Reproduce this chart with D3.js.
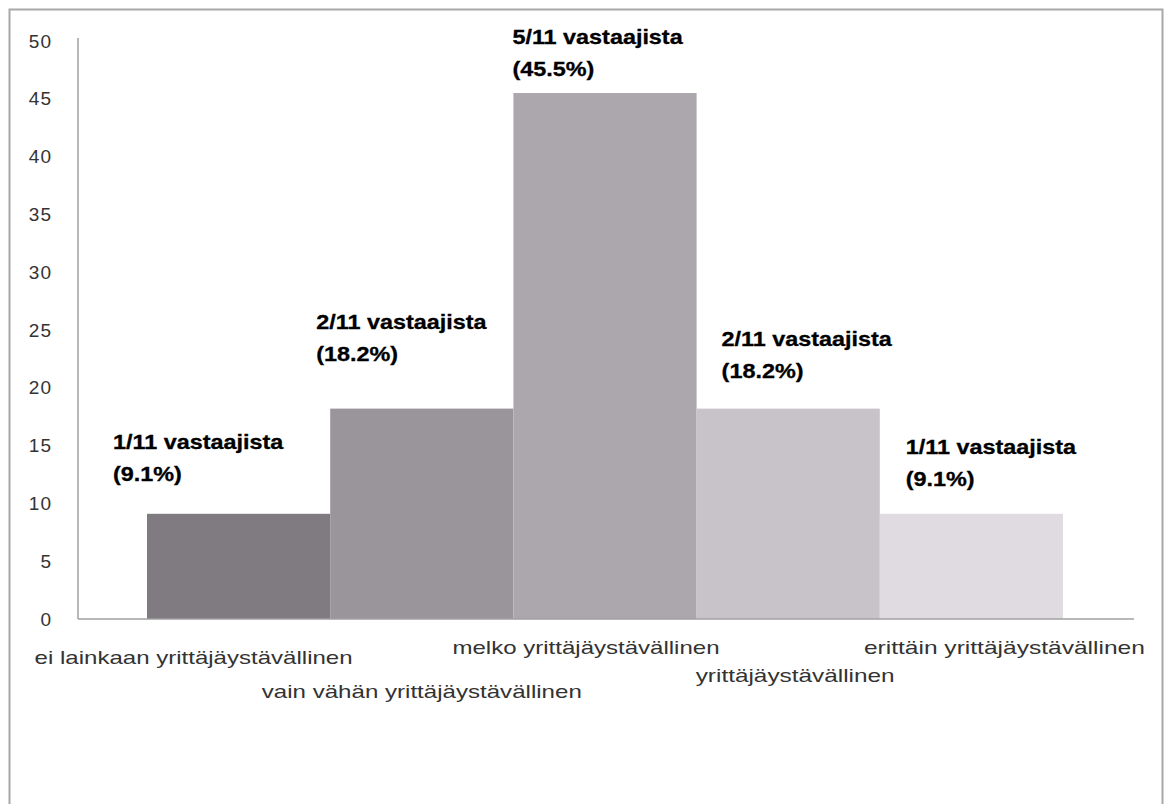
<!DOCTYPE html>
<html>
<head>
<meta charset="utf-8">
<script src="https://cdn.jsdelivr.net/npm/d3@7"></script>
<style>
  html, body { margin: 0; padding: 0; background: #fff; }
  svg { display: block; }
</style>
</head>
<body>
<svg id="chart" width="1168" height="804"></svg>
<script>
// chart data
const categories = [
  'ei lainkaan yrittäjäystävällinen',
  'vain vähän yrittäjäystävällinen',
  'melko yrittäjäystävällinen',
  'yrittäjäystävällinen',
  'erittäin yrittäjäystävällinen'
];
const respondents = [1, 2, 5, 2, 1];
const totalRespondents = 11;
const percents = [9.1, 18.2, 45.5, 18.2, 9.1];
const yTicks = [0, 5, 10, 15, 20, 25, 30, 35, 40, 45, 50];

// layout tweaks (the original labels are placed by hand)
const barColors = ['#807b81', '#9a959b', '#aca7ad', '#c8c3c9', '#e0dbe1'];
const catLabelLayout = [
  { dx: -45, y: 664, w: 318 },
  { dx: 0, y: 698, w: 320 },
  { dx: -19, y: 654, w: 267 },
  { dx: 7, y: 682, w: 199 },
  { dx: 33, y: 654, w: 281 }
];
const valLabelLayout = [
  { dx: -34, dy: -65 },
  { dx: -14, dy: -80 },
  { dx: -1, dy: -49 },
  { dx: 25, dy: -63 },
  { dx: 26, dy: -60 }
];

const svg = d3.select('#chart');

// outer frame
svg.append('rect')
  .attr('x', 9.5).attr('y', 9.5)
  .attr('width', 1153).attr('height', 900)
  .attr('fill', 'none')
  .attr('stroke', '#a8a8a8')
  .attr('stroke-width', 2);

const x = d3.scaleBand()
  .domain(categories)
  .range([147, 1063])
  .padding(0);

const y = d3.scaleLinear()
  .domain([0, 50])
  .range([619, 41]);

const axisLeftX = 78;
const axisRightX = 1134;

// bars
svg.append('g')
  .selectAll('rect')
  .data(categories)
  .join('rect')
  .attr('x', d => x(d))
  .attr('y', (d, i) => y(percents[i]))
  .attr('width', x.bandwidth())
  .attr('height', (d, i) => y(0) - y(percents[i]))
  .attr('fill', (d, i) => barColors[i]);

// y axis
const yAxis = svg.append('g')
  .attr('transform', 'translate(' + axisLeftX + ',0)')
  .call(d3.axisLeft(y).tickValues(yTicks).tickSize(0).tickPadding(26));
yAxis.select('.domain')
  .attr('d', 'M0,' + (y(50) - 3) + 'V' + y(0))
  .attr('stroke', '#a0a0a0')
  .attr('stroke-width', 1.5);
yAxis.selectAll('text')
  .attr('font-family', 'Liberation Sans, Arial, sans-serif')
  .attr('font-size', 19)
  .attr('fill', '#333')
  .attr('letter-spacing', 1);

// x axis line
svg.append('line')
  .attr('x1', axisLeftX).attr('x2', axisRightX)
  .attr('y1', y(0)).attr('y2', y(0))
  .attr('stroke', '#a0a0a0')
  .attr('stroke-width', 1.5);

// category labels
svg.append('g')
  .selectAll('text')
  .data(categories)
  .join('text')
  .attr('x', (d, i) => x(d) + x.bandwidth() / 2 + catLabelLayout[i].dx)
  .attr('y', (d, i) => catLabelLayout[i].y)
  .attr('text-anchor', 'middle')
  .attr('textLength', (d, i) => catLabelLayout[i].w)
  .attr('lengthAdjust', 'spacingAndGlyphs')
  .attr('font-family', 'Liberation Sans, Arial, sans-serif')
  .attr('font-size', 19)
  .attr('fill', '#333')
  .text(d => d);

// value labels
const valLabels = svg.append('g')
  .selectAll('g')
  .data(categories)
  .join('g')
  .attr('transform', (d, i) =>
    'translate(' + (x(d) + valLabelLayout[i].dx) + ',' + (y(percents[i]) + valLabelLayout[i].dy) + ') scale(1.2,1)')
  .attr('font-family', 'Liberation Sans, Arial, sans-serif')
  .attr('font-size', 19.5)
  .attr('font-weight', 'bold')
  .attr('fill', '#000')
  .attr('stroke', '#000')
  .attr('stroke-width', 0.3);

valLabels.append('text')
  .attr('x', 0).attr('y', 0)
  .text((d, i) => respondents[i] + '/' + totalRespondents + ' vastaajista');
valLabels.append('text')
  .attr('x', 0).attr('y', 32)
  .text((d, i) => '(' + percents[i].toFixed(1) + '%)');
</script>
</body>
</html>
